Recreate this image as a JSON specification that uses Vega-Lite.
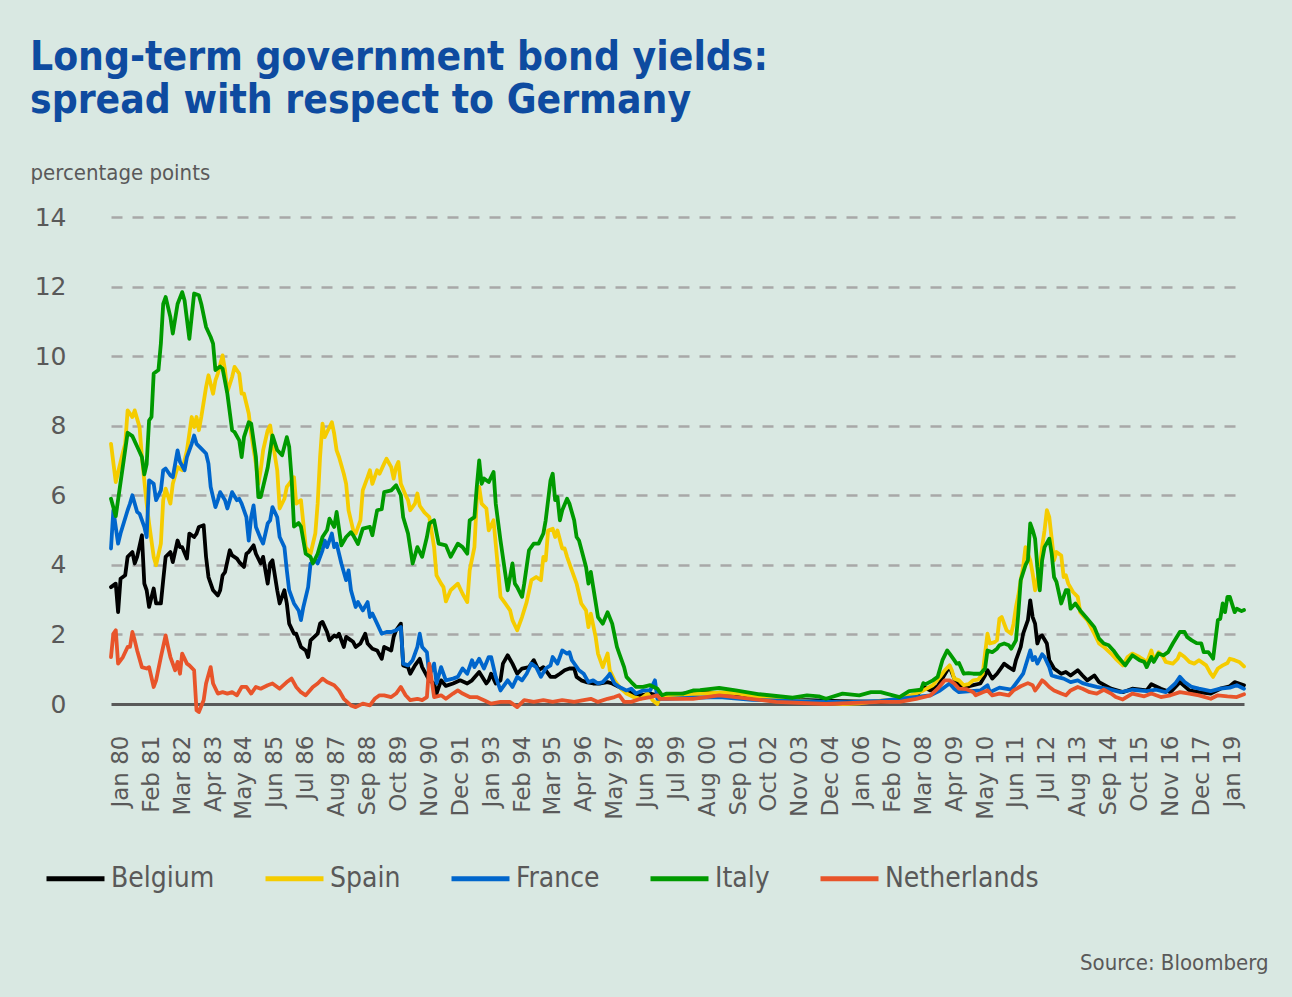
{
  "$schema": "https://vega.github.io/schema/vega-lite/v6.json",
  "width": 1133,
  "height": 487,
  "autosize": {"type": "none"},
  "padding": {"left": 111, "top": 217, "right": 48, "bottom": 293},
  "background": "#D9E8E2",
  "title": {
    "text": ["Long-term government bond yields:", "spread with respect to Germany"],
    "anchor": "start",
    "frame": "group",
    "dx": -81,
    "offset": 40,
    "font": "DejaVu Sans Condensed, DejaVu Sans, sans-serif",
    "fontSize": 40.4,
    "fontWeight": "bold",
    "color": "#0E4BA0",
    "lineHeight": 43
  },
  "data": {
    "values": [
      {"country":"Belgium","date":"1979-09","spread":3.36},{"country":"Belgium","date":"1979-11","spread":3.46},{"country":"Belgium","date":"1979-12","spread":2.64},{"country":"Belgium","date":"1980-01","spread":3.6},{"country":"Belgium","date":"1980-03","spread":3.7},{"country":"Belgium","date":"1980-04","spread":4.23},{"country":"Belgium","date":"1980-06","spread":4.37},{"country":"Belgium","date":"1980-07","spread":4.04},{"country":"Belgium","date":"1980-08","spread":4.23},{"country":"Belgium","date":"1980-10","spread":4.85},{"country":"Belgium","date":"1980-11","spread":3.46},{"country":"Belgium","date":"1980-12","spread":3.27},{"country":"Belgium","date":"1981-01","spread":2.79},{"country":"Belgium","date":"1981-03","spread":3.32},{"country":"Belgium","date":"1981-04","spread":2.89},{"country":"Belgium","date":"1981-06","spread":2.89},{"country":"Belgium","date":"1981-07","spread":3.56},{"country":"Belgium","date":"1981-08","spread":4.23},{"country":"Belgium","date":"1981-10","spread":4.37},{"country":"Belgium","date":"1981-11","spread":4.08},{"country":"Belgium","date":"1982-01","spread":4.7},{"country":"Belgium","date":"1982-02","spread":4.51},{"country":"Belgium","date":"1982-03","spread":4.51},{"country":"Belgium","date":"1982-05","spread":4.18},{"country":"Belgium","date":"1982-06","spread":4.9},{"country":"Belgium","date":"1982-08","spread":4.8},{"country":"Belgium","date":"1982-09","spread":4.9},{"country":"Belgium","date":"1982-10","spread":5.09},{"country":"Belgium","date":"1982-12","spread":5.14},{"country":"Belgium","date":"1983-01","spread":4.23},{"country":"Belgium","date":"1983-02","spread":3.65},{"country":"Belgium","date":"1983-04","spread":3.27},{"country":"Belgium","date":"1983-06","spread":3.12},{"country":"Belgium","date":"1983-07","spread":3.27},{"country":"Belgium","date":"1983-08","spread":3.7},{"country":"Belgium","date":"1983-09","spread":3.79},{"country":"Belgium","date":"1983-11","spread":4.42},{"country":"Belgium","date":"1983-12","spread":4.27},{"country":"Belgium","date":"1984-02","spread":4.18},{"country":"Belgium","date":"1984-03","spread":4.08},{"country":"Belgium","date":"1984-05","spread":3.94},{"country":"Belgium","date":"1984-06","spread":4.32},{"country":"Belgium","date":"1984-07","spread":4.37},{"country":"Belgium","date":"1984-09","spread":4.56},{"country":"Belgium","date":"1984-10","spread":4.32},{"country":"Belgium","date":"1984-12","spread":4.04},{"country":"Belgium","date":"1985-01","spread":4.23},{"country":"Belgium","date":"1985-03","spread":3.46},{"country":"Belgium","date":"1985-04","spread":4.04},{"country":"Belgium","date":"1985-05","spread":4.13},{"country":"Belgium","date":"1985-07","spread":3.27},{"country":"Belgium","date":"1985-08","spread":2.89},{"country":"Belgium","date":"1985-10","spread":3.27},{"country":"Belgium","date":"1985-11","spread":2.89},{"country":"Belgium","date":"1985-12","spread":2.31},{"country":"Belgium","date":"1986-02","spread":2.02},{"country":"Belgium","date":"1986-03","spread":2.02},{"country":"Belgium","date":"1986-05","spread":1.64},{"country":"Belgium","date":"1986-07","spread":1.54},{"country":"Belgium","date":"1986-08","spread":1.35},{"country":"Belgium","date":"1986-09","spread":1.83},{"country":"Belgium","date":"1986-12","spread":2.02},{"country":"Belgium","date":"1987-01","spread":2.31},{"country":"Belgium","date":"1987-02","spread":2.36},{"country":"Belgium","date":"1987-04","spread":2.07},{"country":"Belgium","date":"1987-05","spread":1.83},{"country":"Belgium","date":"1987-07","spread":1.97},{"country":"Belgium","date":"1987-08","spread":1.93},{"country":"Belgium","date":"1987-09","spread":2.02},{"country":"Belgium","date":"1987-11","spread":1.64},{"country":"Belgium","date":"1987-12","spread":1.93},{"country":"Belgium","date":"1988-02","spread":1.83},{"country":"Belgium","date":"1988-03","spread":1.78},{"country":"Belgium","date":"1988-04","spread":1.64},{"country":"Belgium","date":"1988-06","spread":1.74},{"country":"Belgium","date":"1988-08","spread":2.02},{"country":"Belgium","date":"1988-09","spread":1.74},{"country":"Belgium","date":"1988-11","spread":1.59},{"country":"Belgium","date":"1989-01","spread":1.54},{"country":"Belgium","date":"1989-03","spread":1.3},{"country":"Belgium","date":"1989-04","spread":1.64},{"country":"Belgium","date":"1989-07","spread":1.54},{"country":"Belgium","date":"1989-08","spread":1.93},{"country":"Belgium","date":"1989-09","spread":2.12},{"country":"Belgium","date":"1989-11","spread":2.31},{"country":"Belgium","date":"1989-12","spread":1.11},{"country":"Belgium","date":"1990-02","spread":1.06},{"country":"Belgium","date":"1990-03","spread":0.87},{"country":"Belgium","date":"1990-05","spread":1.11},{"country":"Belgium","date":"1990-07","spread":1.3},{"country":"Belgium","date":"1990-08","spread":1.06},{"country":"Belgium","date":"1990-11","spread":0.68},{"country":"Belgium","date":"1991-01","spread":0.59},{"country":"Belgium","date":"1991-02","spread":0.3},{"country":"Belgium","date":"1991-04","spread":0.68},{"country":"Belgium","date":"1991-06","spread":0.52},{"country":"Belgium","date":"1991-09","spread":0.59},{"country":"Belgium","date":"1991-12","spread":0.68},{"country":"Belgium","date":"1992-03","spread":0.59},{"country":"Belgium","date":"1992-05","spread":0.68},{"country":"Belgium","date":"1992-08","spread":0.92},{"country":"Belgium","date":"1992-11","spread":0.59},{"country":"Belgium","date":"1992-12","spread":0.68},{"country":"Belgium","date":"1993-01","spread":0.87},{"country":"Belgium","date":"1993-03","spread":0.59},{"country":"Belgium","date":"1993-05","spread":0.68},{"country":"Belgium","date":"1993-06","spread":1.16},{"country":"Belgium","date":"1993-08","spread":1.4},{"country":"Belgium","date":"1993-10","spread":1.16},{"country":"Belgium","date":"1993-12","spread":0.87},{"country":"Belgium","date":"1994-02","spread":1.02},{"country":"Belgium","date":"1994-05","spread":1.06},{"country":"Belgium","date":"1994-07","spread":1.26},{"country":"Belgium","date":"1994-09","spread":0.97},{"country":"Belgium","date":"1994-11","spread":1.06},{"country":"Belgium","date":"1995-02","spread":0.78},{"country":"Belgium","date":"1995-04","spread":0.78},{"country":"Belgium","date":"1995-06","spread":0.87},{"country":"Belgium","date":"1995-08","spread":0.97},{"country":"Belgium","date":"1995-10","spread":1.02},{"country":"Belgium","date":"1995-12","spread":1.02},{"country":"Belgium","date":"1996-01","spread":0.78},{"country":"Belgium","date":"1996-03","spread":0.68},{"country":"Belgium","date":"1996-05","spread":0.63},{"country":"Belgium","date":"1996-08","spread":0.59},{"country":"Belgium","date":"1996-11","spread":0.59},{"country":"Belgium","date":"1997-02","spread":0.63},{"country":"Belgium","date":"1997-04","spread":0.59},{"country":"Belgium","date":"1997-07","spread":0.49},{"country":"Belgium","date":"1997-10","spread":0.34},{"country":"Belgium","date":"1998-01","spread":0.3},{"country":"Belgium","date":"1998-04","spread":0.25},{"country":"Belgium","date":"1998-08","spread":0.3},{"country":"Belgium","date":"1998-11","spread":0.25},{"country":"Belgium","date":"1999-03","spread":0.25},{"country":"Belgium","date":"1999-10","spread":0.3},{"country":"Belgium","date":"2000-05","spread":0.34},{"country":"Belgium","date":"2000-12","spread":0.3},{"country":"Belgium","date":"2002-06","spread":0.2},{"country":"Belgium","date":"2003-11","spread":0.12},{"country":"Belgium","date":"2005-04","spread":0.08},{"country":"Belgium","date":"2006-09","spread":0.06},{"country":"Belgium","date":"2007-11","spread":0.15},{"country":"Belgium","date":"2008-03","spread":0.49},{"country":"Belgium","date":"2008-06","spread":0.39},{"country":"Belgium","date":"2008-09","spread":0.51},{"country":"Belgium","date":"2009-01","spread":0.97},{"country":"Belgium","date":"2009-02","spread":1.06},{"country":"Belgium","date":"2009-04","spread":0.73},{"country":"Belgium","date":"2009-06","spread":0.54},{"country":"Belgium","date":"2009-09","spread":0.49},{"country":"Belgium","date":"2009-12","spread":0.54},{"country":"Belgium","date":"2010-03","spread":0.59},{"country":"Belgium","date":"2010-05","spread":0.82},{"country":"Belgium","date":"2010-06","spread":0.97},{"country":"Belgium","date":"2010-08","spread":0.73},{"country":"Belgium","date":"2010-10","spread":0.87},{"country":"Belgium","date":"2010-12","spread":1.06},{"country":"Belgium","date":"2011-01","spread":1.16},{"country":"Belgium","date":"2011-03","spread":1.06},{"country":"Belgium","date":"2011-05","spread":0.97},{"country":"Belgium","date":"2011-06","spread":1.26},{"country":"Belgium","date":"2011-08","spread":1.64},{"country":"Belgium","date":"2011-09","spread":2.02},{"country":"Belgium","date":"2011-11","spread":2.41},{"country":"Belgium","date":"2011-12","spread":2.98},{"country":"Belgium","date":"2012-01","spread":2.5},{"country":"Belgium","date":"2012-02","spread":2.31},{"country":"Belgium","date":"2012-03","spread":1.74},{"country":"Belgium","date":"2012-04","spread":1.93},{"country":"Belgium","date":"2012-05","spread":1.97},{"country":"Belgium","date":"2012-07","spread":1.74},{"country":"Belgium","date":"2012-08","spread":1.26},{"country":"Belgium","date":"2012-10","spread":1.02},{"country":"Belgium","date":"2013-01","spread":0.87},{"country":"Belgium","date":"2013-03","spread":0.92},{"country":"Belgium","date":"2013-05","spread":0.82},{"country":"Belgium","date":"2013-08","spread":0.97},{"country":"Belgium","date":"2013-10","spread":0.82},{"country":"Belgium","date":"2013-12","spread":0.68},{"country":"Belgium","date":"2014-03","spread":0.82},{"country":"Belgium","date":"2014-05","spread":0.63},{"country":"Belgium","date":"2014-10","spread":0.44},{"country":"Belgium","date":"2015-03","spread":0.34},{"country":"Belgium","date":"2015-07","spread":0.44},{"country":"Belgium","date":"2016-01","spread":0.39},{"country":"Belgium","date":"2016-03","spread":0.57},{"country":"Belgium","date":"2016-07","spread":0.44},{"country":"Belgium","date":"2016-11","spread":0.34},{"country":"Belgium","date":"2017-03","spread":0.63},{"country":"Belgium","date":"2017-07","spread":0.39},{"country":"Belgium","date":"2017-11","spread":0.34},{"country":"Belgium","date":"2018-04","spread":0.3},{"country":"Belgium","date":"2018-08","spread":0.44},{"country":"Belgium","date":"2018-12","spread":0.51},{"country":"Belgium","date":"2019-02","spread":0.63},{"country":"Belgium","date":"2019-06","spread":0.54},

      {"country":"Spain","date":"1979-09","spread":7.48},{"country":"Spain","date":"1979-11","spread":6.38},{"country":"Spain","date":"1980-02","spread":7.24},{"country":"Spain","date":"1980-03","spread":7.48},{"country":"Spain","date":"1980-04","spread":8.44},{"country":"Spain","date":"1980-06","spread":8.25},{"country":"Spain","date":"1980-07","spread":8.44},{"country":"Spain","date":"1980-09","spread":7.96},{"country":"Spain","date":"1980-10","spread":7.1},{"country":"Spain","date":"1980-12","spread":5.76},{"country":"Spain","date":"1981-01","spread":5.19},{"country":"Spain","date":"1981-03","spread":4.23},{"country":"Spain","date":"1981-04","spread":3.99},{"country":"Spain","date":"1981-06","spread":4.61},{"country":"Spain","date":"1981-07","spread":5.86},{"country":"Spain","date":"1981-08","spread":6.19},{"country":"Spain","date":"1981-10","spread":5.76},{"country":"Spain","date":"1981-11","spread":6.33},{"country":"Spain","date":"1982-01","spread":6.81},{"country":"Spain","date":"1982-03","spread":6.72},{"country":"Spain","date":"1982-05","spread":7.29},{"country":"Spain","date":"1982-07","spread":8.25},{"country":"Spain","date":"1982-08","spread":7.96},{"country":"Spain","date":"1982-09","spread":8.25},{"country":"Spain","date":"1982-10","spread":7.87},{"country":"Spain","date":"1982-11","spread":8.25},{"country":"Spain","date":"1983-01","spread":9.11},{"country":"Spain","date":"1983-02","spread":9.45},{"country":"Spain","date":"1983-04","spread":8.92},{"country":"Spain","date":"1983-05","spread":9.3},{"country":"Spain","date":"1983-06","spread":9.5},{"country":"Spain","date":"1983-08","spread":10.02},{"country":"Spain","date":"1983-09","spread":9.6},{"country":"Spain","date":"1983-10","spread":8.97},{"country":"Spain","date":"1983-12","spread":9.4},{"country":"Spain","date":"1984-01","spread":9.69},{"country":"Spain","date":"1984-03","spread":9.5},{"country":"Spain","date":"1984-04","spread":8.92},{"country":"Spain","date":"1984-05","spread":8.92},{"country":"Spain","date":"1984-07","spread":8.35},{"country":"Spain","date":"1984-08","spread":7.77},{"country":"Spain","date":"1984-10","spread":6.91},{"country":"Spain","date":"1984-11","spread":6.33},{"country":"Spain","date":"1984-12","spread":6.72},{"country":"Spain","date":"1985-01","spread":7.29},{"country":"Spain","date":"1985-03","spread":7.87},{"country":"Spain","date":"1985-04","spread":8.01},{"country":"Spain","date":"1985-05","spread":7.58},{"country":"Spain","date":"1985-07","spread":6.72},{"country":"Spain","date":"1985-08","spread":5.62},{"country":"Spain","date":"1985-10","spread":5.9},{"country":"Spain","date":"1985-11","spread":6.24},{"country":"Spain","date":"1985-12","spread":6.33},{"country":"Spain","date":"1986-02","spread":6.52},{"country":"Spain","date":"1986-03","spread":5.76},{"country":"Spain","date":"1986-05","spread":5.86},{"country":"Spain","date":"1986-06","spread":5.19},{"country":"Spain","date":"1986-07","spread":4.51},{"country":"Spain","date":"1986-09","spread":4.32},{"country":"Spain","date":"1986-11","spread":4.9},{"country":"Spain","date":"1986-12","spread":5.76},{"country":"Spain","date":"1987-01","spread":7.1},{"country":"Spain","date":"1987-02","spread":8.06},{"country":"Spain","date":"1987-03","spread":7.67},{"country":"Spain","date":"1987-04","spread":7.82},{"country":"Spain","date":"1987-06","spread":8.1},{"country":"Spain","date":"1987-07","spread":7.77},{"country":"Spain","date":"1987-08","spread":7.29},{"country":"Spain","date":"1987-09","spread":7.1},{"country":"Spain","date":"1987-11","spread":6.62},{"country":"Spain","date":"1987-12","spread":6.33},{"country":"Spain","date":"1988-01","spread":5.57},{"country":"Spain","date":"1988-03","spread":4.99},{"country":"Spain","date":"1988-04","spread":4.9},{"country":"Spain","date":"1988-06","spread":5.28},{"country":"Spain","date":"1988-07","spread":6.14},{"country":"Spain","date":"1988-09","spread":6.52},{"country":"Spain","date":"1988-10","spread":6.72},{"country":"Spain","date":"1988-11","spread":6.33},{"country":"Spain","date":"1989-01","spread":6.72},{"country":"Spain","date":"1989-02","spread":6.62},{"country":"Spain","date":"1989-04","spread":6.91},{"country":"Spain","date":"1989-05","spread":7.05},{"country":"Spain","date":"1989-07","spread":6.81},{"country":"Spain","date":"1989-08","spread":6.48},{"country":"Spain","date":"1989-09","spread":6.81},{"country":"Spain","date":"1989-10","spread":6.96},{"country":"Spain","date":"1989-11","spread":6.33},{"country":"Spain","date":"1990-01","spread":6.0},{"country":"Spain","date":"1990-02","spread":5.86},{"country":"Spain","date":"1990-03","spread":5.57},{"country":"Spain","date":"1990-05","spread":5.76},{"country":"Spain","date":"1990-06","spread":6.05},{"country":"Spain","date":"1990-07","spread":5.7},{"country":"Spain","date":"1990-09","spread":5.5},{"country":"Spain","date":"1990-11","spread":5.37},{"country":"Spain","date":"1991-01","spread":4.51},{"country":"Spain","date":"1991-02","spread":3.7},{"country":"Spain","date":"1991-04","spread":3.46},{"country":"Spain","date":"1991-05","spread":3.36},{"country":"Spain","date":"1991-06","spread":2.95},{"country":"Spain","date":"1991-08","spread":3.27},{"country":"Spain","date":"1991-11","spread":3.46},{"country":"Spain","date":"1992-01","spread":3.17},{"country":"Spain","date":"1992-03","spread":2.93},{"country":"Spain","date":"1992-04","spread":3.84},{"country":"Spain","date":"1992-06","spread":4.51},{"country":"Spain","date":"1992-07","spread":5.86},{"country":"Spain","date":"1992-08","spread":6.24},{"country":"Spain","date":"1992-09","spread":5.76},{"country":"Spain","date":"1992-11","spread":5.62},{"country":"Spain","date":"1992-12","spread":4.99},{"country":"Spain","date":"1993-02","spread":5.28},{"country":"Spain","date":"1993-04","spread":3.84},{"country":"Spain","date":"1993-05","spread":3.08},{"country":"Spain","date":"1993-07","spread":2.89},{"country":"Spain","date":"1993-09","spread":2.69},{"country":"Spain","date":"1993-10","spread":2.41},{"country":"Spain","date":"1993-12","spread":2.12},{"country":"Spain","date":"1994-02","spread":2.5},{"country":"Spain","date":"1994-04","spread":2.93},{"country":"Spain","date":"1994-06","spread":3.56},{"country":"Spain","date":"1994-08","spread":3.65},{"country":"Spain","date":"1994-10","spread":3.56},{"country":"Spain","date":"1994-11","spread":4.23},{"country":"Spain","date":"1994-12","spread":4.13},{"country":"Spain","date":"1995-01","spread":4.99},{"country":"Spain","date":"1995-03","spread":5.04},{"country":"Spain","date":"1995-04","spread":4.8},{"country":"Spain","date":"1995-05","spread":4.99},{"country":"Spain","date":"1995-07","spread":4.47},{"country":"Spain","date":"1995-08","spread":4.47},{"country":"Spain","date":"1995-09","spread":4.23},{"country":"Spain","date":"1995-11","spread":3.84},{"country":"Spain","date":"1996-01","spread":3.46},{"country":"Spain","date":"1996-03","spread":2.89},{"country":"Spain","date":"1996-05","spread":2.69},{"country":"Spain","date":"1996-06","spread":2.21},{"country":"Spain","date":"1996-07","spread":2.6},{"country":"Spain","date":"1996-09","spread":1.93},{"country":"Spain","date":"1996-10","spread":1.45},{"country":"Spain","date":"1996-12","spread":1.06},{"country":"Spain","date":"1997-01","spread":1.26},{"country":"Spain","date":"1997-02","spread":1.45},{"country":"Spain","date":"1997-03","spread":0.97},{"country":"Spain","date":"1997-05","spread":0.68},{"country":"Spain","date":"1997-07","spread":0.49},{"country":"Spain","date":"1997-10","spread":0.3},{"country":"Spain","date":"1998-01","spread":0.2},{"country":"Spain","date":"1998-04","spread":0.15},{"country":"Spain","date":"1998-07","spread":0.3},{"country":"Spain","date":"1998-09","spread":0.11},{"country":"Spain","date":"1998-11","spread":0.0},{"country":"Spain","date":"1998-12","spread":0.2},{"country":"Spain","date":"1999-03","spread":0.2},{"country":"Spain","date":"2000-02","spread":0.28},{"country":"Spain","date":"2001-01","spread":0.33},{"country":"Spain","date":"2001-08","spread":0.31},{"country":"Spain","date":"2002-06","spread":0.2},{"country":"Spain","date":"2003-08","spread":0.12},{"country":"Spain","date":"2004-07","spread":0.05},{"country":"Spain","date":"2005-05","spread":0.0},{"country":"Spain","date":"2005-12","spread":0.02},{"country":"Spain","date":"2006-09","spread":0.1},{"country":"Spain","date":"2007-05","spread":0.15},{"country":"Spain","date":"2007-12","spread":0.3},{"country":"Spain","date":"2008-03","spread":0.39},{"country":"Spain","date":"2008-07","spread":0.54},{"country":"Spain","date":"2008-10","spread":0.78},{"country":"Spain","date":"2008-12","spread":0.97},{"country":"Spain","date":"2009-02","spread":1.11},{"country":"Spain","date":"2009-03","spread":0.97},{"country":"Spain","date":"2009-04","spread":0.73},{"country":"Spain","date":"2009-06","spread":0.68},{"country":"Spain","date":"2009-08","spread":0.54},{"country":"Spain","date":"2009-10","spread":0.57},{"country":"Spain","date":"2009-12","spread":0.68},{"country":"Spain","date":"2010-02","spread":0.7},{"country":"Spain","date":"2010-04","spread":0.87},{"country":"Spain","date":"2010-05","spread":1.45},{"country":"Spain","date":"2010-06","spread":2.02},{"country":"Spain","date":"2010-07","spread":1.74},{"country":"Spain","date":"2010-09","spread":1.78},{"country":"Spain","date":"2010-10","spread":1.83},{"country":"Spain","date":"2010-11","spread":2.45},{"country":"Spain","date":"2010-12","spread":2.5},{"country":"Spain","date":"2011-02","spread":2.12},{"country":"Spain","date":"2011-04","spread":2.02},{"country":"Spain","date":"2011-05","spread":2.31},{"country":"Spain","date":"2011-06","spread":2.79},{"country":"Spain","date":"2011-07","spread":3.12},{"country":"Spain","date":"2011-08","spread":3.56},{"country":"Spain","date":"2011-09","spread":3.94},{"country":"Spain","date":"2011-10","spread":4.51},{"country":"Spain","date":"2011-12","spread":4.13},{"country":"Spain","date":"2012-01","spread":3.75},{"country":"Spain","date":"2012-02","spread":3.27},{"country":"Spain","date":"2012-03","spread":3.56},{"country":"Spain","date":"2012-04","spread":3.94},{"country":"Spain","date":"2012-05","spread":4.51},{"country":"Spain","date":"2012-06","spread":4.99},{"country":"Spain","date":"2012-07","spread":5.57},{"country":"Spain","date":"2012-08","spread":5.37},{"country":"Spain","date":"2012-09","spread":4.75},{"country":"Spain","date":"2012-10","spread":4.13},{"country":"Spain","date":"2012-11","spread":4.37},{"country":"Spain","date":"2013-01","spread":4.27},{"country":"Spain","date":"2013-02","spread":3.65},{"country":"Spain","date":"2013-03","spread":3.7},{"country":"Spain","date":"2013-04","spread":3.46},{"country":"Spain","date":"2013-06","spread":3.22},{"country":"Spain","date":"2013-08","spread":3.08},{"country":"Spain","date":"2013-09","spread":2.64},{"country":"Spain","date":"2013-12","spread":2.41},{"country":"Spain","date":"2014-03","spread":2.02},{"country":"Spain","date":"2014-05","spread":1.74},{"country":"Spain","date":"2014-07","spread":1.64},{"country":"Spain","date":"2014-10","spread":1.45},{"country":"Spain","date":"2014-12","spread":1.3},{"country":"Spain","date":"2015-03","spread":1.11},{"country":"Spain","date":"2015-05","spread":1.35},{"country":"Spain","date":"2015-07","spread":1.45},{"country":"Spain","date":"2015-10","spread":1.35},{"country":"Spain","date":"2015-12","spread":1.26},{"country":"Spain","date":"2016-01","spread":1.18},{"country":"Spain","date":"2016-03","spread":1.54},{"country":"Spain","date":"2016-04","spread":1.26},{"country":"Spain","date":"2016-06","spread":1.49},{"country":"Spain","date":"2016-08","spread":1.35},{"country":"Spain","date":"2016-09","spread":1.21},{"country":"Spain","date":"2016-12","spread":1.16},{"country":"Spain","date":"2017-02","spread":1.3},{"country":"Spain","date":"2017-03","spread":1.45},{"country":"Spain","date":"2017-05","spread":1.35},{"country":"Spain","date":"2017-07","spread":1.21},{"country":"Spain","date":"2017-09","spread":1.16},{"country":"Spain","date":"2017-11","spread":1.26},{"country":"Spain","date":"2018-02","spread":1.11},{"country":"Spain","date":"2018-04","spread":0.87},{"country":"Spain","date":"2018-05","spread":0.78},{"country":"Spain","date":"2018-07","spread":1.02},{"country":"Spain","date":"2018-09","spread":1.11},{"country":"Spain","date":"2018-11","spread":1.18},{"country":"Spain","date":"2018-12","spread":1.3},{"country":"Spain","date":"2019-02","spread":1.26},{"country":"Spain","date":"2019-04","spread":1.21},{"country":"Spain","date":"2019-06","spread":1.08},

      {"country":"France","date":"1979-09","spread":4.47},{"country":"France","date":"1979-10","spread":5.57},{"country":"France","date":"1979-12","spread":4.61},{"country":"France","date":"1980-01","spread":4.9},{"country":"France","date":"1980-04","spread":5.57},{"country":"France","date":"1980-05","spread":5.76},{"country":"France","date":"1980-06","spread":6.0},{"country":"France","date":"1980-08","spread":5.52},{"country":"France","date":"1980-09","spread":5.47},{"country":"France","date":"1980-11","spread":5.09},{"country":"France","date":"1980-12","spread":4.8},{"country":"France","date":"1981-01","spread":6.43},{"country":"France","date":"1981-03","spread":6.33},{"country":"France","date":"1981-04","spread":5.86},{"country":"France","date":"1981-06","spread":6.14},{"country":"France","date":"1981-07","spread":6.72},{"country":"France","date":"1981-08","spread":6.77},{"country":"France","date":"1981-10","spread":6.57},{"country":"France","date":"1981-11","spread":6.52},{"country":"France","date":"1982-01","spread":7.29},{"country":"France","date":"1982-02","spread":6.96},{"country":"France","date":"1982-04","spread":6.72},{"country":"France","date":"1982-05","spread":7.1},{"country":"France","date":"1982-07","spread":7.48},{"country":"France","date":"1982-08","spread":7.72},{"country":"France","date":"1982-09","spread":7.48},{"country":"France","date":"1982-11","spread":7.34},{"country":"France","date":"1983-01","spread":7.2},{"country":"France","date":"1983-02","spread":6.91},{"country":"France","date":"1983-03","spread":6.24},{"country":"France","date":"1983-05","spread":5.66},{"country":"France","date":"1983-06","spread":5.86},{"country":"France","date":"1983-07","spread":6.09},{"country":"France","date":"1983-09","spread":5.86},{"country":"France","date":"1983-10","spread":5.62},{"country":"France","date":"1983-12","spread":6.09},{"country":"France","date":"1984-02","spread":5.86},{"country":"France","date":"1984-03","spread":5.9},{"country":"France","date":"1984-04","spread":5.76},{"country":"France","date":"1984-06","spread":5.37},{"country":"France","date":"1984-07","spread":4.7},{"country":"France","date":"1984-08","spread":5.37},{"country":"France","date":"1984-09","spread":5.71},{"country":"France","date":"1984-10","spread":5.09},{"country":"France","date":"1984-12","spread":4.75},{"country":"France","date":"1985-01","spread":4.61},{"country":"France","date":"1985-03","spread":5.19},{"country":"France","date":"1985-04","spread":5.28},{"country":"France","date":"1985-05","spread":5.66},{"country":"France","date":"1985-07","spread":5.37},{"country":"France","date":"1985-08","spread":4.8},{"country":"France","date":"1985-10","spread":4.51},{"country":"France","date":"1985-11","spread":3.84},{"country":"France","date":"1985-12","spread":3.27},{"country":"France","date":"1986-02","spread":2.89},{"country":"France","date":"1986-04","spread":2.69},{"country":"France","date":"1986-05","spread":2.41},{"country":"France","date":"1986-06","spread":2.79},{"country":"France","date":"1986-08","spread":3.36},{"country":"France","date":"1986-09","spread":4.04},{"country":"France","date":"1986-11","spread":4.13},{"country":"France","date":"1986-12","spread":4.04},{"country":"France","date":"1987-02","spread":4.42},{"country":"France","date":"1987-03","spread":4.7},{"country":"France","date":"1987-04","spread":4.51},{"country":"France","date":"1987-06","spread":4.9},{"country":"France","date":"1987-07","spread":4.51},{"country":"France","date":"1987-08","spread":4.61},{"country":"France","date":"1987-10","spread":4.04},{"country":"France","date":"1987-12","spread":3.56},{"country":"France","date":"1988-01","spread":3.84},{"country":"France","date":"1988-02","spread":3.27},{"country":"France","date":"1988-04","spread":2.79},{"country":"France","date":"1988-05","spread":2.93},{"country":"France","date":"1988-07","spread":2.69},{"country":"France","date":"1988-09","spread":2.93},{"country":"France","date":"1988-10","spread":2.5},{"country":"France","date":"1988-11","spread":2.6},{"country":"France","date":"1989-01","spread":2.31},{"country":"France","date":"1989-03","spread":2.02},{"country":"France","date":"1989-05","spread":2.07},{"country":"France","date":"1989-07","spread":2.07},{"country":"France","date":"1989-09","spread":2.12},{"country":"France","date":"1989-11","spread":2.21},{"country":"France","date":"1989-12","spread":1.16},{"country":"France","date":"1990-02","spread":1.11},{"country":"France","date":"1990-04","spread":1.26},{"country":"France","date":"1990-06","spread":1.64},{"country":"France","date":"1990-07","spread":2.02},{"country":"France","date":"1990-08","spread":1.64},{"country":"France","date":"1990-10","spread":1.49},{"country":"France","date":"1990-11","spread":0.8},{"country":"France","date":"1991-01","spread":1.16},{"country":"France","date":"1991-02","spread":0.6},{"country":"France","date":"1991-04","spread":1.06},{"country":"France","date":"1991-06","spread":0.68},{"country":"France","date":"1991-09","spread":0.73},{"country":"France","date":"1991-11","spread":0.78},{"country":"France","date":"1992-01","spread":1.02},{"country":"France","date":"1992-03","spread":0.87},{"country":"France","date":"1992-05","spread":1.26},{"country":"France","date":"1992-06","spread":1.06},{"country":"France","date":"1992-08","spread":1.3},{"country":"France","date":"1992-10","spread":1.02},{"country":"France","date":"1992-12","spread":1.35},{"country":"France","date":"1993-01","spread":1.35},{"country":"France","date":"1993-03","spread":0.78},{"country":"France","date":"1993-05","spread":0.39},{"country":"France","date":"1993-08","spread":0.68},{"country":"France","date":"1993-10","spread":0.49},{"country":"France","date":"1993-12","spread":0.78},{"country":"France","date":"1994-02","spread":0.68},{"country":"France","date":"1994-04","spread":0.87},{"country":"France","date":"1994-06","spread":1.16},{"country":"France","date":"1994-08","spread":1.06},{"country":"France","date":"1994-10","spread":0.78},{"country":"France","date":"1994-12","spread":1.02},{"country":"France","date":"1995-02","spread":1.11},{"country":"France","date":"1995-03","spread":1.35},{"country":"France","date":"1995-05","spread":1.16},{"country":"France","date":"1995-07","spread":1.54},{"country":"France","date":"1995-09","spread":1.45},{"country":"France","date":"1995-10","spread":1.49},{"country":"France","date":"1995-11","spread":1.26},{"country":"France","date":"1996-02","spread":0.97},{"country":"France","date":"1996-04","spread":0.87},{"country":"France","date":"1996-06","spread":0.63},{"country":"France","date":"1996-08","spread":0.68},{"country":"France","date":"1996-10","spread":0.59},{"country":"France","date":"1996-12","spread":0.63},{"country":"France","date":"1997-02","spread":0.78},{"country":"France","date":"1997-03","spread":0.87},{"country":"France","date":"1997-05","spread":0.59},{"country":"France","date":"1997-07","spread":0.49},{"country":"France","date":"1997-10","spread":0.39},{"country":"France","date":"1997-12","spread":0.44},{"country":"France","date":"1998-02","spread":0.3},{"country":"France","date":"1998-05","spread":0.39},{"country":"France","date":"1998-08","spread":0.39},{"country":"France","date":"1998-10","spread":0.68},{"country":"France","date":"1998-11","spread":0.15},{"country":"France","date":"1999-03","spread":0.15},{"country":"France","date":"2000-02","spread":0.18},{"country":"France","date":"2001-01","spread":0.2},{"country":"France","date":"2002-03","spread":0.12},{"country":"France","date":"2003-11","spread":0.08},{"country":"France","date":"2005-07","spread":0.05},{"country":"France","date":"2006-09","spread":0.09},{"country":"France","date":"2007-11","spread":0.2},{"country":"France","date":"2008-06","spread":0.25},{"country":"France","date":"2008-10","spread":0.39},{"country":"France","date":"2009-01","spread":0.54},{"country":"France","date":"2009-02","spread":0.59},{"country":"France","date":"2009-04","spread":0.44},{"country":"France","date":"2009-06","spread":0.34},{"country":"France","date":"2009-11","spread":0.37},{"country":"France","date":"2010-03","spread":0.39},{"country":"France","date":"2010-06","spread":0.54},{"country":"France","date":"2010-07","spread":0.34},{"country":"France","date":"2010-11","spread":0.47},{"country":"France","date":"2011-04","spread":0.41},{"country":"France","date":"2011-06","spread":0.59},{"country":"France","date":"2011-09","spread":0.87},{"country":"France","date":"2011-12","spread":1.54},{"country":"France","date":"2012-01","spread":1.26},{"country":"France","date":"2012-02","spread":1.35},{"country":"France","date":"2012-03","spread":1.16},{"country":"France","date":"2012-05","spread":1.43},{"country":"France","date":"2012-06","spread":1.35},{"country":"France","date":"2012-08","spread":1.06},{"country":"France","date":"2012-09","spread":0.82},{"country":"France","date":"2012-11","spread":0.78},{"country":"France","date":"2013-02","spread":0.73},{"country":"France","date":"2013-05","spread":0.63},{"country":"France","date":"2013-08","spread":0.68},{"country":"France","date":"2013-10","spread":0.6},{"country":"France","date":"2014-01","spread":0.54},{"country":"France","date":"2014-04","spread":0.49},{"country":"France","date":"2014-08","spread":0.44},{"country":"France","date":"2015-02","spread":0.34},{"country":"France","date":"2015-07","spread":0.41},{"country":"France","date":"2016-01","spread":0.37},{"country":"France","date":"2016-05","spread":0.41},{"country":"France","date":"2016-09","spread":0.34},{"country":"France","date":"2017-01","spread":0.59},{"country":"France","date":"2017-03","spread":0.78},{"country":"France","date":"2017-05","spread":0.63},{"country":"France","date":"2017-08","spread":0.49},{"country":"France","date":"2017-11","spread":0.44},{"country":"France","date":"2018-04","spread":0.37},{"country":"France","date":"2018-08","spread":0.44},{"country":"France","date":"2018-12","spread":0.47},{"country":"France","date":"2019-03","spread":0.54},{"country":"France","date":"2019-06","spread":0.44},

      {"country":"Italy","date":"1979-09","spread":5.9},{"country":"Italy","date":"1979-11","spread":5.4},{"country":"Italy","date":"1980-04","spread":7.8},{"country":"Italy","date":"1980-06","spread":7.7},{"country":"Italy","date":"1980-08","spread":7.4},{"country":"Italy","date":"1980-10","spread":7.1},{"country":"Italy","date":"1980-11","spread":6.6},{"country":"Italy","date":"1980-12","spread":6.9},{"country":"Italy","date":"1981-01","spread":8.15},{"country":"Italy","date":"1981-02","spread":8.25},{"country":"Italy","date":"1981-03","spread":9.5},{"country":"Italy","date":"1981-05","spread":9.6},{"country":"Italy","date":"1981-06","spread":10.36},{"country":"Italy","date":"1981-07","spread":11.5},{"country":"Italy","date":"1981-08","spread":11.7},{"country":"Italy","date":"1981-10","spread":11.12},{"country":"Italy","date":"1981-11","spread":10.65},{"country":"Italy","date":"1982-01","spread":11.5},{"country":"Italy","date":"1982-03","spread":11.84},{"country":"Italy","date":"1982-04","spread":11.6},{"country":"Italy","date":"1982-06","spread":10.5},{"country":"Italy","date":"1982-08","spread":11.8},{"country":"Italy","date":"1982-10","spread":11.75},{"country":"Italy","date":"1982-11","spread":11.5},{"country":"Italy","date":"1983-01","spread":10.84},{"country":"Italy","date":"1983-03","spread":10.55},{"country":"Italy","date":"1983-04","spread":10.36},{"country":"Italy","date":"1983-05","spread":9.6},{"country":"Italy","date":"1983-07","spread":9.7},{"country":"Italy","date":"1983-08","spread":9.64},{"country":"Italy","date":"1983-10","spread":8.92},{"country":"Italy","date":"1983-12","spread":7.87},{"country":"Italy","date":"1984-01","spread":7.82},{"country":"Italy","date":"1984-03","spread":7.58},{"country":"Italy","date":"1984-04","spread":7.1},{"country":"Italy","date":"1984-05","spread":7.67},{"country":"Italy","date":"1984-07","spread":8.1},{"country":"Italy","date":"1984-08","spread":8.06},{"country":"Italy","date":"1984-10","spread":7.1},{"country":"Italy","date":"1984-11","spread":5.95},{"country":"Italy","date":"1984-12","spread":5.95},{"country":"Italy","date":"1985-03","spread":6.8},{"country":"Italy","date":"1985-05","spread":7.72},{"country":"Italy","date":"1985-07","spread":7.3},{"country":"Italy","date":"1985-09","spread":7.15},{"country":"Italy","date":"1985-11","spread":7.67},{"country":"Italy","date":"1985-12","spread":7.4},{"country":"Italy","date":"1986-01","spread":6.5},{"country":"Italy","date":"1986-02","spread":5.1},{"country":"Italy","date":"1986-04","spread":5.2},{"country":"Italy","date":"1986-05","spread":5.1},{"country":"Italy","date":"1986-07","spread":4.32},{"country":"Italy","date":"1986-09","spread":4.23},{"country":"Italy","date":"1986-10","spread":4.04},{"country":"Italy","date":"1986-12","spread":4.32},{"country":"Italy","date":"1987-02","spread":4.8},{"country":"Italy","date":"1987-04","spread":5.0},{"country":"Italy","date":"1987-05","spread":5.33},{"country":"Italy","date":"1987-07","spread":5.09},{"country":"Italy","date":"1987-08","spread":5.52},{"country":"Italy","date":"1987-10","spread":4.56},{"country":"Italy","date":"1987-12","spread":4.8},{"country":"Italy","date":"1988-02","spread":4.94},{"country":"Italy","date":"1988-03","spread":4.85},{"country":"Italy","date":"1988-05","spread":4.6},{"country":"Italy","date":"1988-07","spread":5.04},{"country":"Italy","date":"1988-10","spread":5.09},{"country":"Italy","date":"1988-11","spread":4.85},{"country":"Italy","date":"1989-01","spread":5.57},{"country":"Italy","date":"1989-03","spread":5.6},{"country":"Italy","date":"1989-04","spread":6.09},{"country":"Italy","date":"1989-07","spread":6.14},{"country":"Italy","date":"1989-09","spread":6.29},{"country":"Italy","date":"1989-11","spread":6.0},{"country":"Italy","date":"1989-12","spread":5.37},{"country":"Italy","date":"1990-02","spread":4.9},{"country":"Italy","date":"1990-04","spread":4.04},{"country":"Italy","date":"1990-06","spread":4.51},{"country":"Italy","date":"1990-08","spread":4.23},{"country":"Italy","date":"1990-10","spread":4.8},{"country":"Italy","date":"1990-11","spread":5.19},{"country":"Italy","date":"1991-01","spread":5.28},{"country":"Italy","date":"1991-03","spread":4.61},{"country":"Italy","date":"1991-06","spread":4.56},{"country":"Italy","date":"1991-08","spread":4.23},{"country":"Italy","date":"1991-11","spread":4.61},{"country":"Italy","date":"1992-01","spread":4.51},{"country":"Italy","date":"1992-03","spread":4.32},{"country":"Italy","date":"1992-04","spread":5.28},{"country":"Italy","date":"1992-06","spread":5.37},{"country":"Italy","date":"1992-07","spread":6.24},{"country":"Italy","date":"1992-08","spread":7.0},{"country":"Italy","date":"1992-09","spread":6.33},{"country":"Italy","date":"1992-10","spread":6.48},{"country":"Italy","date":"1992-12","spread":6.38},{"country":"Italy","date":"1993-02","spread":6.67},{"country":"Italy","date":"1993-03","spread":5.76},{"country":"Italy","date":"1993-05","spread":4.7},{"country":"Italy","date":"1993-07","spread":3.75},{"country":"Italy","date":"1993-08","spread":3.27},{"country":"Italy","date":"1993-10","spread":4.04},{"country":"Italy","date":"1993-11","spread":3.46},{"country":"Italy","date":"1993-12","spread":3.36},{"country":"Italy","date":"1994-02","spread":3.08},{"country":"Italy","date":"1994-03","spread":3.46},{"country":"Italy","date":"1994-05","spread":4.42},{"country":"Italy","date":"1994-07","spread":4.61},{"country":"Italy","date":"1994-09","spread":4.61},{"country":"Italy","date":"1994-11","spread":4.9},{"country":"Italy","date":"1994-12","spread":5.28},{"country":"Italy","date":"1995-02","spread":6.43},{"country":"Italy","date":"1995-03","spread":6.62},{"country":"Italy","date":"1995-04","spread":5.86},{"country":"Italy","date":"1995-05","spread":5.95},{"country":"Italy","date":"1995-06","spread":5.28},{"country":"Italy","date":"1995-07","spread":5.57},{"country":"Italy","date":"1995-09","spread":5.9},{"country":"Italy","date":"1995-10","spread":5.76},{"country":"Italy","date":"1995-12","spread":5.28},{"country":"Italy","date":"1996-01","spread":4.8},{"country":"Italy","date":"1996-02","spread":4.7},{"country":"Italy","date":"1996-05","spread":3.94},{"country":"Italy","date":"1996-06","spread":3.46},{"country":"Italy","date":"1996-07","spread":3.8},{"country":"Italy","date":"1996-08","spread":3.36},{"country":"Italy","date":"1996-10","spread":2.5},{"country":"Italy","date":"1996-12","spread":2.31},{"country":"Italy","date":"1997-02","spread":2.64},{"country":"Italy","date":"1997-04","spread":2.31},{"country":"Italy","date":"1997-06","spread":1.64},{"country":"Italy","date":"1997-07","spread":1.45},{"country":"Italy","date":"1997-09","spread":1.06},{"country":"Italy","date":"1997-10","spread":0.78},{"country":"Italy","date":"1997-12","spread":0.63},{"country":"Italy","date":"1998-02","spread":0.49},{"country":"Italy","date":"1998-05","spread":0.49},{"country":"Italy","date":"1998-08","spread":0.54},{"country":"Italy","date":"1998-11","spread":0.44},{"country":"Italy","date":"1999-01","spread":0.25},{"country":"Italy","date":"1999-03","spread":0.3},{"country":"Italy","date":"1999-10","spread":0.3},{"country":"Italy","date":"2000-02","spread":0.39},{"country":"Italy","date":"2000-05","spread":0.4},{"country":"Italy","date":"2001-01","spread":0.46},{"country":"Italy","date":"2001-08","spread":0.39},{"country":"Italy","date":"2002-06","spread":0.28},{"country":"Italy","date":"2003-08","spread":0.18},{"country":"Italy","date":"2004-02","spread":0.25},{"country":"Italy","date":"2004-07","spread":0.22},{"country":"Italy","date":"2004-10","spread":0.15},{"country":"Italy","date":"2005-05","spread":0.3},{"country":"Italy","date":"2005-12","spread":0.25},{"country":"Italy","date":"2006-05","spread":0.34},{"country":"Italy","date":"2006-09","spread":0.34},{"country":"Italy","date":"2007-05","spread":0.2},{"country":"Italy","date":"2007-09","spread":0.37},{"country":"Italy","date":"2008-02","spread":0.41},{"country":"Italy","date":"2008-03","spread":0.6},{"country":"Italy","date":"2008-04","spread":0.57},{"country":"Italy","date":"2008-07","spread":0.68},{"country":"Italy","date":"2008-09","spread":0.78},{"country":"Italy","date":"2008-11","spread":1.26},{"country":"Italy","date":"2009-01","spread":1.54},{"country":"Italy","date":"2009-02","spread":1.45},{"country":"Italy","date":"2009-04","spread":1.26},{"country":"Italy","date":"2009-05","spread":1.16},{"country":"Italy","date":"2009-06","spread":1.18},{"country":"Italy","date":"2009-08","spread":0.87},{"country":"Italy","date":"2009-10","spread":0.89},{"country":"Italy","date":"2009-12","spread":0.87},{"country":"Italy","date":"2010-03","spread":0.87},{"country":"Italy","date":"2010-05","spread":1.02},{"country":"Italy","date":"2010-06","spread":1.54},{"country":"Italy","date":"2010-08","spread":1.49},{"country":"Italy","date":"2010-10","spread":1.59},{"country":"Italy","date":"2010-11","spread":1.69},{"country":"Italy","date":"2011-01","spread":1.74},{"country":"Italy","date":"2011-03","spread":1.69},{"country":"Italy","date":"2011-04","spread":1.59},{"country":"Italy","date":"2011-06","spread":1.83},{"country":"Italy","date":"2011-07","spread":2.6},{"country":"Italy","date":"2011-08","spread":3.56},{"country":"Italy","date":"2011-10","spread":3.99},{"country":"Italy","date":"2011-11","spread":4.13},{"country":"Italy","date":"2011-12","spread":5.19},{"country":"Italy","date":"2012-01","spread":5.0},{"country":"Italy","date":"2012-02","spread":4.75},{"country":"Italy","date":"2012-03","spread":3.94},{"country":"Italy","date":"2012-04","spread":3.27},{"country":"Italy","date":"2012-05","spread":4.13},{"country":"Italy","date":"2012-06","spread":4.51},{"country":"Italy","date":"2012-08","spread":4.75},{"country":"Italy","date":"2012-09","spread":4.32},{"country":"Italy","date":"2012-10","spread":3.65},{"country":"Italy","date":"2012-11","spread":3.51},{"country":"Italy","date":"2013-01","spread":2.89},{"country":"Italy","date":"2013-03","spread":3.27},{"country":"Italy","date":"2013-04","spread":3.27},{"country":"Italy","date":"2013-05","spread":2.74},{"country":"Italy","date":"2013-07","spread":2.89},{"country":"Italy","date":"2013-09","spread":2.69},{"country":"Italy","date":"2013-12","spread":2.45},{"country":"Italy","date":"2014-03","spread":2.21},{"country":"Italy","date":"2014-05","spread":1.88},{"country":"Italy","date":"2014-07","spread":1.74},{"country":"Italy","date":"2014-09","spread":1.69},{"country":"Italy","date":"2014-11","spread":1.54},{"country":"Italy","date":"2015-01","spread":1.35},{"country":"Italy","date":"2015-04","spread":1.11},{"country":"Italy","date":"2015-05","spread":1.21},{"country":"Italy","date":"2015-07","spread":1.4},{"country":"Italy","date":"2015-10","spread":1.26},{"country":"Italy","date":"2015-12","spread":1.21},{"country":"Italy","date":"2016-01","spread":1.06},{"country":"Italy","date":"2016-03","spread":1.35},{"country":"Italy","date":"2016-04","spread":1.21},{"country":"Italy","date":"2016-06","spread":1.45},{"country":"Italy","date":"2016-08","spread":1.4},{"country":"Italy","date":"2016-10","spread":1.49},{"country":"Italy","date":"2016-12","spread":1.74},{"country":"Italy","date":"2017-03","spread":2.07},{"country":"Italy","date":"2017-05","spread":2.07},{"country":"Italy","date":"2017-06","spread":1.93},{"country":"Italy","date":"2017-08","spread":1.83},{"country":"Italy","date":"2017-10","spread":1.75},{"country":"Italy","date":"2017-12","spread":1.74},{"country":"Italy","date":"2018-01","spread":1.49},{"country":"Italy","date":"2018-03","spread":1.49},{"country":"Italy","date":"2018-04","spread":1.4},{"country":"Italy","date":"2018-05","spread":1.3},{"country":"Italy","date":"2018-07","spread":2.41},{"country":"Italy","date":"2018-08","spread":2.45},{"country":"Italy","date":"2018-09","spread":2.89},{"country":"Italy","date":"2018-10","spread":2.64},{"country":"Italy","date":"2018-11","spread":3.08},{"country":"Italy","date":"2018-12","spread":3.08},{"country":"Italy","date":"2019-02","spread":2.64},{"country":"Italy","date":"2019-03","spread":2.74},{"country":"Italy","date":"2019-05","spread":2.67},{"country":"Italy","date":"2019-06","spread":2.7},

      {"country":"Netherlands","date":"1979-09","spread":1.35},{"country":"Netherlands","date":"1979-10","spread":2.02},{"country":"Netherlands","date":"1979-11","spread":2.12},{"country":"Netherlands","date":"1979-12","spread":1.16},{"country":"Netherlands","date":"1980-02","spread":1.35},{"country":"Netherlands","date":"1980-04","spread":1.64},{"country":"Netherlands","date":"1980-05","spread":1.64},{"country":"Netherlands","date":"1980-06","spread":2.07},{"country":"Netherlands","date":"1980-07","spread":1.83},{"country":"Netherlands","date":"1980-08","spread":1.54},{"country":"Netherlands","date":"1980-10","spread":1.06},{"country":"Netherlands","date":"1980-12","spread":1.02},{"country":"Netherlands","date":"1981-01","spread":1.06},{"country":"Netherlands","date":"1981-03","spread":0.49},{"country":"Netherlands","date":"1981-04","spread":0.68},{"country":"Netherlands","date":"1981-06","spread":1.35},{"country":"Netherlands","date":"1981-08","spread":1.97},{"country":"Netherlands","date":"1981-09","spread":1.64},{"country":"Netherlands","date":"1981-10","spread":1.35},{"country":"Netherlands","date":"1981-12","spread":0.97},{"country":"Netherlands","date":"1982-01","spread":1.21},{"country":"Netherlands","date":"1982-02","spread":0.87},{"country":"Netherlands","date":"1982-03","spread":1.45},{"country":"Netherlands","date":"1982-05","spread":1.16},{"country":"Netherlands","date":"1982-06","spread":1.11},{"country":"Netherlands","date":"1982-08","spread":0.97},{"country":"Netherlands","date":"1982-09","spread":-0.18},{"country":"Netherlands","date":"1982-10","spread":-0.23},{"country":"Netherlands","date":"1982-12","spread":0.11},{"country":"Netherlands","date":"1983-01","spread":0.59},{"country":"Netherlands","date":"1983-03","spread":1.06},{"country":"Netherlands","date":"1983-04","spread":0.59},{"country":"Netherlands","date":"1983-06","spread":0.3},{"country":"Netherlands","date":"1983-08","spread":0.34},{"country":"Netherlands","date":"1983-10","spread":0.3},{"country":"Netherlands","date":"1983-12","spread":0.34},{"country":"Netherlands","date":"1984-02","spread":0.25},{"country":"Netherlands","date":"1984-04","spread":0.49},{"country":"Netherlands","date":"1984-06","spread":0.49},{"country":"Netherlands","date":"1984-08","spread":0.3},{"country":"Netherlands","date":"1984-10","spread":0.49},{"country":"Netherlands","date":"1984-12","spread":0.44},{"country":"Netherlands","date":"1985-03","spread":0.54},{"country":"Netherlands","date":"1985-05","spread":0.59},{"country":"Netherlands","date":"1985-08","spread":0.44},{"country":"Netherlands","date":"1985-11","spread":0.63},{"country":"Netherlands","date":"1986-01","spread":0.73},{"country":"Netherlands","date":"1986-03","spread":0.49},{"country":"Netherlands","date":"1986-05","spread":0.34},{"country":"Netherlands","date":"1986-07","spread":0.25},{"country":"Netherlands","date":"1986-10","spread":0.49},{"country":"Netherlands","date":"1986-12","spread":0.59},{"country":"Netherlands","date":"1987-02","spread":0.73},{"country":"Netherlands","date":"1987-04","spread":0.63},{"country":"Netherlands","date":"1987-07","spread":0.54},{"country":"Netherlands","date":"1987-09","spread":0.39},{"country":"Netherlands","date":"1987-11","spread":0.15},{"country":"Netherlands","date":"1988-02","spread":-0.04},{"country":"Netherlands","date":"1988-04","spread":-0.09},{"country":"Netherlands","date":"1988-07","spread":0.01},{"country":"Netherlands","date":"1988-10","spread":-0.04},{"country":"Netherlands","date":"1988-12","spread":0.15},{"country":"Netherlands","date":"1989-02","spread":0.25},{"country":"Netherlands","date":"1989-04","spread":0.25},{"country":"Netherlands","date":"1989-07","spread":0.2},{"country":"Netherlands","date":"1989-09","spread":0.3},{"country":"Netherlands","date":"1989-11","spread":0.49},{"country":"Netherlands","date":"1990-01","spread":0.25},{"country":"Netherlands","date":"1990-03","spread":0.11},{"country":"Netherlands","date":"1990-06","spread":0.15},{"country":"Netherlands","date":"1990-08","spread":0.11},{"country":"Netherlands","date":"1990-10","spread":0.2},{"country":"Netherlands","date":"1990-11","spread":1.16},{"country":"Netherlands","date":"1991-01","spread":0.2},{"country":"Netherlands","date":"1991-04","spread":0.25},{"country":"Netherlands","date":"1991-06","spread":0.15},{"country":"Netherlands","date":"1991-09","spread":0.3},{"country":"Netherlands","date":"1991-11","spread":0.39},{"country":"Netherlands","date":"1992-01","spread":0.3},{"country":"Netherlands","date":"1992-04","spread":0.2},{"country":"Netherlands","date":"1992-07","spread":0.2},{"country":"Netherlands","date":"1992-10","spread":0.11},{"country":"Netherlands","date":"1993-01","spread":0.01},{"country":"Netherlands","date":"1993-05","spread":0.06},{"country":"Netherlands","date":"1993-09","spread":0.06},{"country":"Netherlands","date":"1993-12","spread":-0.09},{"country":"Netherlands","date":"1994-03","spread":0.11},{"country":"Netherlands","date":"1994-07","spread":0.06},{"country":"Netherlands","date":"1994-11","spread":0.11},{"country":"Netherlands","date":"1995-03","spread":0.06},{"country":"Netherlands","date":"1995-07","spread":0.11},{"country":"Netherlands","date":"1995-12","spread":0.06},{"country":"Netherlands","date":"1996-04","spread":0.11},{"country":"Netherlands","date":"1996-07","spread":0.15},{"country":"Netherlands","date":"1996-10","spread":0.06},{"country":"Netherlands","date":"1997-02","spread":0.15},{"country":"Netherlands","date":"1997-05","spread":0.2},{"country":"Netherlands","date":"1997-07","spread":0.25},{"country":"Netherlands","date":"1997-09","spread":0.06},{"country":"Netherlands","date":"1997-12","spread":0.06},{"country":"Netherlands","date":"1998-04","spread":0.15},{"country":"Netherlands","date":"1998-08","spread":0.2},{"country":"Netherlands","date":"1998-11","spread":0.25},{"country":"Netherlands","date":"1998-12","spread":0.15},{"country":"Netherlands","date":"1999-06","spread":0.15},{"country":"Netherlands","date":"2000-02","spread":0.15},{"country":"Netherlands","date":"2001-01","spread":0.25},{"country":"Netherlands","date":"2001-08","spread":0.2},{"country":"Netherlands","date":"2003-01","spread":0.06},{"country":"Netherlands","date":"2004-10","spread":0.0},{"country":"Netherlands","date":"2006-09","spread":0.06},{"country":"Netherlands","date":"2007-05","spread":0.06},{"country":"Netherlands","date":"2007-12","spread":0.15},{"country":"Netherlands","date":"2008-06","spread":0.25},{"country":"Netherlands","date":"2008-09","spread":0.44},{"country":"Netherlands","date":"2008-12","spread":0.68},{"country":"Netherlands","date":"2009-02","spread":0.68},{"country":"Netherlands","date":"2009-04","spread":0.59},{"country":"Netherlands","date":"2009-06","spread":0.44},{"country":"Netherlands","date":"2009-09","spread":0.43},{"country":"Netherlands","date":"2009-12","spread":0.34},{"country":"Netherlands","date":"2010-01","spread":0.25},{"country":"Netherlands","date":"2010-04","spread":0.34},{"country":"Netherlands","date":"2010-06","spread":0.39},{"country":"Netherlands","date":"2010-08","spread":0.25},{"country":"Netherlands","date":"2010-11","spread":0.3},{"country":"Netherlands","date":"2011-03","spread":0.25},{"country":"Netherlands","date":"2011-05","spread":0.39},{"country":"Netherlands","date":"2011-08","spread":0.51},{"country":"Netherlands","date":"2011-11","spread":0.6},{"country":"Netherlands","date":"2012-01","spread":0.54},{"country":"Netherlands","date":"2012-02","spread":0.39},{"country":"Netherlands","date":"2012-03","spread":0.47},{"country":"Netherlands","date":"2012-05","spread":0.68},{"country":"Netherlands","date":"2012-06","spread":0.63},{"country":"Netherlands","date":"2012-08","spread":0.49},{"country":"Netherlands","date":"2012-10","spread":0.39},{"country":"Netherlands","date":"2013-01","spread":0.3},{"country":"Netherlands","date":"2013-03","spread":0.25},{"country":"Netherlands","date":"2013-05","spread":0.39},{"country":"Netherlands","date":"2013-08","spread":0.49},{"country":"Netherlands","date":"2013-10","spread":0.44},{"country":"Netherlands","date":"2014-01","spread":0.34},{"country":"Netherlands","date":"2014-04","spread":0.3},{"country":"Netherlands","date":"2014-07","spread":0.41},{"country":"Netherlands","date":"2014-10","spread":0.3},{"country":"Netherlands","date":"2014-12","spread":0.2},{"country":"Netherlands","date":"2015-03","spread":0.13},{"country":"Netherlands","date":"2015-07","spread":0.3},{"country":"Netherlands","date":"2015-12","spread":0.22},{"country":"Netherlands","date":"2016-03","spread":0.3},{"country":"Netherlands","date":"2016-07","spread":0.2},{"country":"Netherlands","date":"2016-11","spread":0.25},{"country":"Netherlands","date":"2017-03","spread":0.34},{"country":"Netherlands","date":"2017-07","spread":0.3},{"country":"Netherlands","date":"2017-11","spread":0.25},{"country":"Netherlands","date":"2018-04","spread":0.15},{"country":"Netherlands","date":"2018-07","spread":0.25},{"country":"Netherlands","date":"2018-11","spread":0.22},{"country":"Netherlands","date":"2019-03","spread":0.2},{"country":"Netherlands","date":"2019-06","spread":0.28}
    ]
  },
  "mark": {"type": "line", "strokeWidth": 3.8, "strokeJoin": "round", "strokeCap": "round"},
  "encoding": {
    "x": {
      "field": "date",
      "type": "temporal",
      "scale": {"domain": [{"year": 1979, "month": 9, "date": 1}, {"year": 2019, "month": 6, "date": 1}], "nice": false},
      "axis": {
        "values": [
          {"year":1980,"month":1,"date":1},{"year":1981,"month":2,"date":1},{"year":1982,"month":3,"date":1},{"year":1983,"month":4,"date":1},{"year":1984,"month":5,"date":1},{"year":1985,"month":6,"date":1},{"year":1986,"month":7,"date":1},{"year":1987,"month":8,"date":1},{"year":1988,"month":9,"date":1},{"year":1989,"month":10,"date":1},{"year":1990,"month":11,"date":1},{"year":1991,"month":12,"date":1},{"year":1993,"month":1,"date":1},{"year":1994,"month":2,"date":1},{"year":1995,"month":3,"date":1},{"year":1996,"month":4,"date":1},{"year":1997,"month":5,"date":1},{"year":1998,"month":6,"date":1},{"year":1999,"month":7,"date":1},{"year":2000,"month":8,"date":1},{"year":2001,"month":9,"date":1},{"year":2002,"month":10,"date":1},{"year":2003,"month":11,"date":1},{"year":2004,"month":12,"date":1},{"year":2006,"month":1,"date":1},{"year":2007,"month":2,"date":1},{"year":2008,"month":3,"date":1},{"year":2009,"month":4,"date":1},{"year":2010,"month":5,"date":1},{"year":2011,"month":6,"date":1},{"year":2012,"month":7,"date":1},{"year":2013,"month":8,"date":1},{"year":2014,"month":9,"date":1},{"year":2015,"month":10,"date":1},{"year":2016,"month":11,"date":1},{"year":2017,"month":12,"date":1},{"year":2019,"month":1,"date":1}
        ],
        "format": "%b %y",
        "labelAngle": -90,
        "labelFont": "DejaVu Sans, sans-serif",
        "labelFontSize": 23,
        "labelColor": "#595959",
        "labelPadding": 31,
        "labelOverlap": false,
        "labelFlush": false,
        "domain": false,
        "ticks": false,
        "grid": false,
        "title": "Source: Bloomberg",
        "titleX": 1157,
        "titleY": 265,
        "titleAlign": "right",
        "titleAnchor": "end",
        "titleBaseline": "alphabetic",
        "titleFont": "DejaVu Sans Condensed, DejaVu Sans, sans-serif",
        "titleFontSize": 22,
        "titleFontWeight": "normal",
        "titleColor": "#595959"
      }
    },
    "y": {
      "field": "spread",
      "type": "quantitative",
      "scale": {"domain": [0, 14], "nice": false, "zero": true},
      "axis": {
        "values": [0, 2, 4, 6, 8, 10, 12, 14],
        "domain": false,
        "ticks": false,
        "grid": true,
        "gridColor": {"condition": {"test": "datum.value === 0", "value": "#595959"}, "value": "#A8A8A8"},
        "gridDash": {"condition": {"test": "datum.value === 0", "value": []}, "value": [11, 10]},
        "gridWidth": {"condition": {"test": "datum.value === 0", "value": 3}, "value": 2.5},
        "labelFont": "DejaVu Sans, sans-serif",
        "labelFontSize": 25,
        "labelColor": "#595959",
        "labelPadding": 45,
        "title": "percentage points",
        "titleAngle": 0,
        "titleAlign": "left",
        "titleBaseline": "alphabetic",
        "titleX": -81,
        "titleY": -38,
        "titleFont": "DejaVu Sans Condensed, DejaVu Sans, sans-serif",
        "titleFontSize": 22,
        "titleFontWeight": "normal",
        "titleColor": "#595959"
      }
    },
    "color": {
      "field": "country",
      "type": "nominal",
      "scale": {
        "domain": ["Belgium", "Spain", "France", "Italy", "Netherlands"],
        "range": ["#000000", "#F5CC00", "#0066CC", "#009A00", "#E8542A"]
      },
      "legend": {
        "orient": "none",
        "legendX": -67,
        "legendY": 630,
        "direction": "horizontal",
        "title": null,
        "symbolType": "stroke",
        "symbolSize": 3364,
        "symbolStrokeWidth": 5,
        "labelFont": "DejaVu Sans Condensed, DejaVu Sans, sans-serif",
        "labelFontSize": 28,
        "labelColor": "#595959",
        "labelOffset": 4,
        "columnPadding": 40,
        "padding": 0
      }
    }
  },
  "config": {
    "view": {"stroke": null},
    "axis": {"zindex": 0}
  }
}
